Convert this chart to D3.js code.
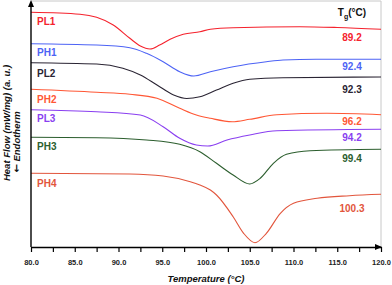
<!DOCTYPE html>
<html>
<head>
<meta charset="utf-8">
<script src="https://cdn.jsdelivr.net/npm/d3@7"></script>
<style>
    body { margin: 0; background: #fff; }
    svg { display: block; font-family: "Liberation Sans", Arial, sans-serif; }
</style>
</head>
<body>
<div id="chart"></div>
<script>
// DSC traces, [temperature (°C), heat flow (a.u., offset)]
const PL1 = [[80, 234.7], [85.6, 232.7], [87.5, 229.7], [89.4, 222], [91.3, 208.7], [92.5, 201], [93.6, 198], [94.7, 202], [95.9, 207.7], [97.4, 212.7], [99.3, 215.3], [100.5, 217.7], [103.1, 219.3], [110.7, 220.3], [115, 219.5], [120, 217.7]];
const PH1 = [[80, 203.3], [87.5, 202], [91.3, 199.3], [93.2, 193.7], [95.1, 185.3], [97, 175.3], [98.6, 171], [100.5, 175.3], [103.1, 180.3], [106.9, 185.3], [108.8, 187], [112.6, 187.7], [120, 187.7]];
const PL2 = [[80, 184.3], [87.5, 183], [90.5, 178.7], [92.5, 172], [94.4, 162], [96.3, 152], [97.8, 148.5], [99.3, 150.3], [101.2, 157], [103.1, 163.7], [105, 167.7], [108.8, 169.3], [120, 170]];
const PH2 = [[80, 157.7], [87.5, 154.7], [91.3, 152.7], [94.4, 148.7], [97, 138.7], [98.9, 132], [100.5, 128.7], [103, 125.3], [105, 127.7], [108.1, 132.3], [113.8, 133.7], [120, 132.3]];
const PL3 = [[80, 137.3], [87.5, 135.3], [92.5, 132], [95.1, 120.3], [97, 108.7], [98.9, 102], [100.2, 101], [102.4, 107], [105, 112], [108.1, 116.3], [120, 117.7]];
const PH3 = [[80, 109.7], [87.5, 109.3], [93.2, 107], [97, 102.7], [99.3, 95.3], [101.2, 83.7], [103.1, 72], [105, 63], [106.2, 68.7], [107.7, 83.7], [109.2, 92.7], [111.9, 96.3], [120, 97.7]];
const PH4 = [[80, 73.7], [91.3, 73], [95.1, 71], [98.2, 65.3], [99.3, 62], [100.5, 57], [101.2, 52], [103.1, 30.3], [104.3, 13.7], [105.6, 4.3], [106.9, 13.7], [108.5, 33.7], [110, 43.7], [112.7, 48.7], [116.4, 51.3], [120, 52.7]];

const seriesNames = ['PL1', 'PH1', 'PL2', 'PH2', 'PL3', 'PH3', 'PH4'];
const seriesData = [PL1, PH1, PL2, PH2, PL3, PH3, PH4];
const tgValues = ['89.2', '92.4', '92.3', '96.2', '94.2', '99.4', '100.3'];
const xTicks = d3.range(80, 120.01, 2.5);

const colors = ['#f5222d', '#4d63f5', '#2a2433', '#ff5735', '#8a3ff0', '#2c5e2e', '#e2553c'];

const width = 392;
const height = 285;

const x = d3.scaleLinear().domain([80, 120]).range([31, 381]);
const y = d3.scaleLinear().domain([0, 246]).range([247, 1]);

const svg = d3.select('#chart').append('svg')
    .attr('width', width)
    .attr('height', height);

// light frame top/right
svg.append('path')
    .attr('d', `M${x(80)},${y(246)}H${x(120)}V${y(0)}`)
    .attr('fill', 'none')
    .attr('stroke', '#c8c8c8')
    .attr('stroke-width', 1);

// curves
const line = d3.line()
    .x(d => x(d[0]))
    .y(d => y(d[1]))
    .curve(d3.curveMonotoneX);

svg.selectAll('.trace')
    .data(seriesData)
    .join('path')
    .attr('class', 'trace')
    .attr('d', line)
    .attr('fill', 'none')
    .attr('stroke', (d, i) => colors[i])
    .attr('stroke-width', 1.1);

// x axis
const xAxis = d3.axisBottom(x)
    .tickValues(xTicks)
    .tickSize(5)
    .tickPadding(8)
    .tickSizeOuter(0)
    .tickFormat(d => d % 5 === 0 ? d.toFixed(1) : '');

const gx = svg.append('g')
    .attr('transform', `translate(0, ${y(0)})`)
    .call(xAxis);

gx.select('.domain').attr('stroke', '#000').attr('stroke-width', 1.4);
gx.selectAll('.tick line').attr('stroke', '#000').attr('stroke-width', 1.2);
gx.selectAll('.tick text')
    .attr('fill', '#222')
    .style('font-size', '7.5px')
    .style('font-weight', 'bold');

// y axis line
svg.append('line')
    .attr('x1', x(80)).attr('x2', x(80))
    .attr('y1', y(0)).attr('y2', y(246) + 3)
    .attr('stroke', '#000')
    .attr('stroke-width', 1.4);

// arrow heads
svg.append('path')
    .attr('d', `M${x(80) - 3},${y(246) + 6}L${x(80)},${y(246) - 1}L${x(80) + 3},${y(246) + 6}Z`)
    .attr('fill', '#000');
svg.append('path')
    .attr('d', `M${x(120) - 6},${y(0) - 3}L${x(120) + 1},${y(0)}L${x(120) - 6},${y(0) + 3}Z`)
    .attr('fill', '#000');

// series labels (left)
const leftLabelY = [24.5, 55.5, 76.5, 102.5, 122, 150, 186.5];
svg.selectAll('.name')
    .data(seriesNames)
    .join('text')
    .attr('class', 'name')
    .attr('x', 37)
    .attr('y', (d, i) => leftLabelY[i])
    .attr('fill', (d, i) => colors[i])
    .style('font-size', '10px')
    .style('font-weight', 'bold')
    .text(d => d);

// Tg values (right)
const rightLabelY = [41, 69.5, 92.5, 124.5, 140.5, 162, 211.5];
svg.selectAll('.tg')
    .data(tgValues)
    .join('text')
    .attr('class', 'tg')
    .attr('x', 352)
    .attr('y', (d, i) => rightLabelY[i])
    .attr('text-anchor', 'middle')
    .attr('fill', (d, i) => colors[i])
    .style('font-size', '10px')
    .style('font-weight', 'bold')
    .text(d => d);

const tgTitle = svg.append('text')
    .attr('x', 352)
    .attr('y', 16)
    .attr('text-anchor', 'middle')
    .attr('fill', '#111')
    .style('font-size', '10px')
    .style('font-weight', 'bold');
tgTitle.append('tspan').text('T');
tgTitle.append('tspan').attr('dy', 2.5).style('font-size', '7px').text('g');
tgTitle.append('tspan').attr('dy', -2.5).text('(°C)');

// axis titles
svg.append('text')
    .attr('x', (x(80) + x(120)) / 2)
    .attr('y', 282)
    .attr('text-anchor', 'middle')
    .attr('fill', '#111')
    .style('font-size', '9.5px')
    .style('font-weight', 'bold')
    .style('font-style', 'italic')
    .text('Temperature (°C)');

svg.append('text')
    .attr('transform', 'translate(10, 123) rotate(-90)')
    .attr('text-anchor', 'middle')
    .attr('fill', '#111')
    .style('font-size', '9.5px')
    .style('font-weight', 'bold')
    .style('font-style', 'italic')
    .text('Heat Flow (mW/mg) (a. u.)');

const endo = svg.append('text')
    .attr('transform', 'translate(19.5, 142) rotate(-90)')
    .attr('text-anchor', 'middle')
    .attr('fill', '#111')
    .style('font-size', '9.5px')
    .style('font-weight', 'bold')
    .style('font-style', 'italic');
endo.append('tspan')
    .style('font-family', '"DejaVu Sans", sans-serif')
    .style('font-style', 'normal')
    .style('font-size', '10px')
    .text('←');
endo.append('tspan').text(' Endotherm');
</script>
</body>
</html>
